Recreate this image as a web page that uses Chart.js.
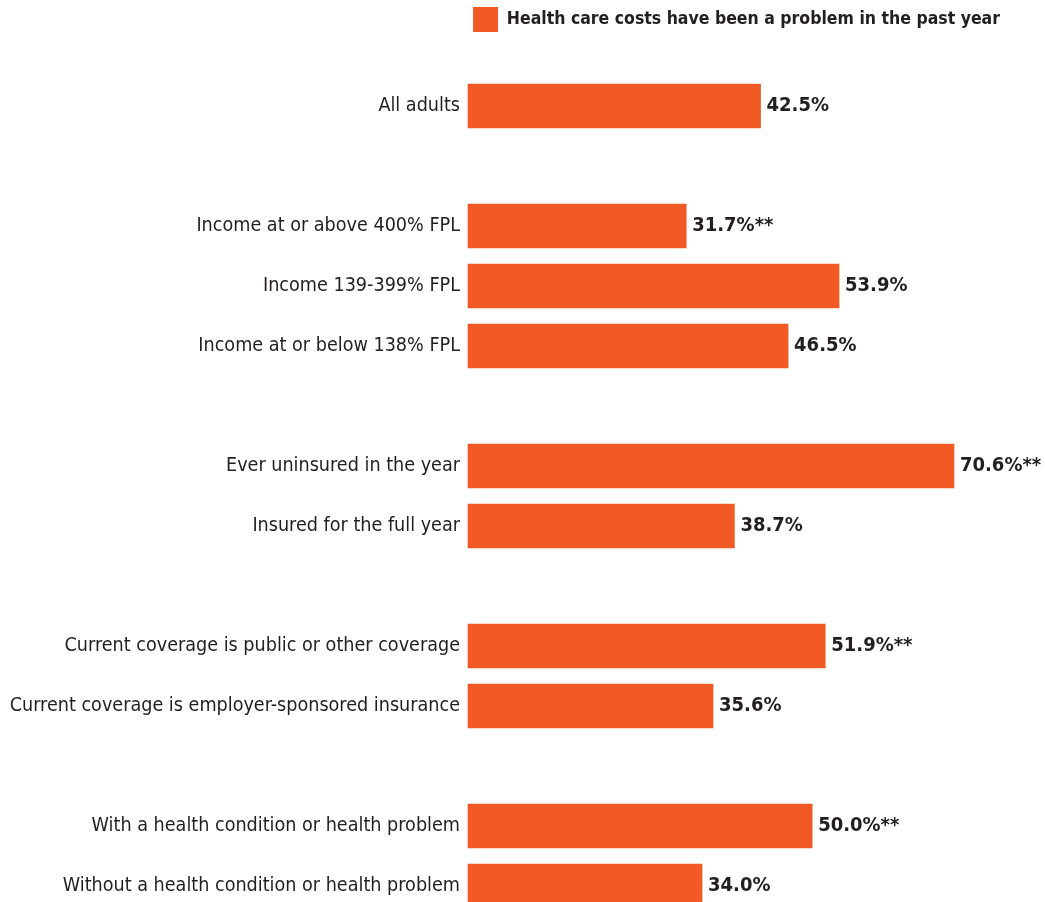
<!DOCTYPE html>
<html>
<head>
<meta charset="utf-8">
<script src="https://cdn.jsdelivr.net/npm/chart.js@4.4.1/dist/chart.umd.min.js"></script>
<style>
  body { margin: 0; background: #fff; }
  #wrap { width: 1045px; height: 902px; position: relative; }
</style>
</head>
<body>
<div id="wrap"><canvas id="costs-chart"></canvas></div>
<script>
"use strict";

// blank entries are the gaps between groups
var categories = [
  "All adults",
  "",
  "Income at or above 400% FPL",
  "Income 139-399% FPL",
  "Income at or below 138% FPL",
  "",
  "Ever uninsured in the year",
  "Insured for the full year",
  "",
  "Current coverage is public or other coverage",
  "Current coverage is employer-sponsored insurance",
  "",
  "With a health condition or health problem",
  "Without a health condition or health problem"
];
var problemPct = [42.5, null, 31.7, 53.9, 46.5, null, 70.6, 38.7, null, 51.9, 35.6, null, 50.0, 34.0];
var sigMarks = ["", "", "**", "", "", "", "**", "", "", "**", "", "", "**", ""];
var seriesName = "Health care costs have been a problem in the past year";

var ORANGE = "#F15A24";
var INK = "#231F20";
var FONT = "'Liberation Sans Narrow', 'DejaVu Sans Condensed', 'Roboto Condensed', sans-serif";

// push the plot down below the legend
var legendSpace = {
  id: "legendSpace",
  beforeLayout: function(chart) {
    if (!chart.legend || chart.legend._patched) return;
    var origFit = chart.legend.fit;
    chart.legend.fit = function() {
      origFit.call(this);
      this.height = 106;
    };
    chart.legend._patched = true;
  }
};

// value labels at the end of each bar
var valueLabels = {
  id: "valueLabels",
  afterDatasetsDraw: function(chart) {
    var c = chart.ctx;
    var meta = chart.getDatasetMeta(0);
    c.save();
    c.font = "bold 20px " + FONT;
    c.fillStyle = INK;
    c.textAlign = "left";
    c.textBaseline = "middle";
    meta.data.forEach(function(bar, i) {
      var v = problemPct[i];
      if (v === null) return;
      c.fillText(v.toFixed(1) + "%" + sigMarks[i], bar.x + 6, bar.y);
    });
    c.restore();
  }
};

var ctx = document.getElementById("costs-chart").getContext("2d");
new Chart(ctx, {
  type: "bar",
  data: {
    labels: categories,
    datasets: [{
      label: seriesName,
      data: problemPct,
      backgroundColor: ORANGE,
      borderWidth: 0,
      barThickness: 44,
      clip: false
    }]
  },
  options: {
    indexAxis: "y",
    responsive: true,
    maintainAspectRatio: false,
    animation: false,
    layout: { padding: { left: 0, right: 38, top: 0, bottom: 16 } },
    plugins: {
      tooltip: { enabled: false },
      legend: {
        display: true,
        position: "top",
        align: "end",
        labels: {
          color: INK,
          font: { family: FONT, size: 17.5, weight: "bold" },
          boxWidth: 25,
          boxHeight: 25,
          padding: 7
        }
      }
    },
    scales: {
      x: {
        display: false,
        min: 0,
        max: 78.3
      },
      y: {
        offset: false,
        grid: { display: false, drawTicks: false },
        border: { display: false },
        afterFit: function(scale) {
          scale.width = 468;
          scale.paddingTop = 0;
          scale.paddingBottom = 0;
        },
        ticks: {
          autoSkip: false,
          padding: 8,
          color: INK,
          font: { family: FONT, size: 19.6 }
        }
      }
    }
  },
  plugins: [legendSpace, valueLabels]
});
</script>
</body>
</html>
